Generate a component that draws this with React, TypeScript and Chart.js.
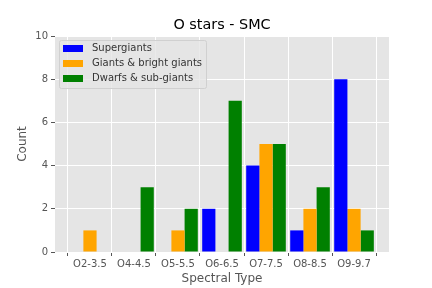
import React, { useEffect, useRef } from "react";
import { Chart, registerables } from "chart.js";

Chart.register(...registerables);

const categories = ["O2-3.5", "O4-4.5", "O5-5.5", "O6-6.5", "O7-7.5", "O8-8.5", "O9-9.7"];
const supergiants = [0, 0, 0, 2, 4, 1, 8];
const giants = [1, 0, 1, 0, 5, 2, 2];
const dwarfs = [0, 3, 2, 7, 5, 3, 1];
const yTicks = [0, 2, 4, 6, 8, 10];
const chartTitle = "O stars - SMC";

const FONT = "'DejaVu Sans', sans-serif";

const bgPlugin = {
  id: "plotBg",
  beforeDraw(chart: any) {
    const { ctx, chartArea } = chart;
    ctx.save();
    ctx.fillStyle = "#E5E5E5";
    ctx.fillRect(chartArea.left, chartArea.top, chartArea.right - chartArea.left, chartArea.bottom - chartArea.top);
    ctx.restore();
  },
};

const titlePlugin = {
  id: "centeredTitle",
  afterDraw(chart: any) {
    const { ctx, chartArea } = chart;
    ctx.save();
    ctx.font = `14.4px ${FONT}`;
    ctx.fillStyle = "#000000";
    ctx.textAlign = "center";
    ctx.textBaseline = "alphabetic";
    ctx.fillText(chartTitle, (chartArea.left + chartArea.right) / 2, chartArea.top - 7);
    ctx.restore();
  },
};

const legendPlugin = {
  id: "innerLegend",
  afterDraw(chart: any) {
    const { ctx, chartArea } = chart;
    const x0 = chartArea.left + 4;
    const y0 = chartArea.top + 4;
    const w = 147;
    const h = 48;
    ctx.save();
    ctx.fillStyle = "rgba(229,229,229,0.8)";
    ctx.strokeStyle = "#D0D0D0";
    ctx.lineWidth = 1;
    ctx.beginPath();
    if ((ctx as any).roundRect) (ctx as any).roundRect(x0 + 0.5, y0 + 0.5, w, h, 2);
    else ctx.rect(x0 + 0.5, y0 + 0.5, w, h);
    ctx.fill();
    ctx.stroke();
    ctx.font = `10px ${FONT}`;
    ctx.textBaseline = "middle";
    ctx.textAlign = "left";
    chart.data.datasets.forEach((ds: any, i: number) => {
      const cy = y0 + 8.5 + i * 15;
      ctx.fillStyle = ds.backgroundColor;
      ctx.fillRect(x0 + 4, cy - 3.5, 20, 7);
      ctx.fillStyle = "#333333";
      ctx.fillText(ds.label, x0 + 33, cy);
    });
    ctx.restore();
  },
};

export default function App() {
  const ref = useRef<HTMLCanvasElement | null>(null);
  useEffect(() => {
    if (!ref.current) return;
    const mk = (arr: number[]) => arr.map((v, i) => ({ x: i, y: v }));
    const chart = new Chart(ref.current, {
      type: "bar",
      data: {
        datasets: [
          { label: "Supergiants", data: mk(supergiants), backgroundColor: "#0000FF" },
          { label: "Giants & bright giants", data: mk(giants), backgroundColor: "#FFA500" },
          { label: "Dwarfs & sub-giants", data: mk(dwarfs), backgroundColor: "#008000" },
        ],
      },
      options: {
        animation: false,
        responsive: false,
        maintainAspectRatio: false,
        categoryPercentage: 0.9,
        barPercentage: 1,
        layout: { padding: { left: 0, right: 43, top: 36, bottom: 0 } },
        plugins: {
          legend: { display: false },
          tooltip: { enabled: false },
          title: { display: false },
        },
        scales: {
          x: {
            type: "linear",
            min: -0.795,
            max: 6.795,
            offset: false,
            afterBuildTicks: (axis: any) => {
              axis.ticks = categories.map((_, i) => ({ value: i }));
            },
            afterFit: (axis: any) => {
              axis.height = 36;
            },
            grid: { color: "#FFFFFF", lineWidth: 1, drawTicks: true, tickLength: 4, tickColor: "#555555" },
            border: { display: false },
            ticks: {
              color: "#555555",
              font: { family: FONT, size: 10 },
              padding: 2,
              maxRotation: 0,
              autoSkip: false,
              callback: (v: any) => categories[Math.round(Number(v))] ?? "",
            },
            title: {
              display: true,
              text: "Spectral Type",
              color: "#555555",
              font: { family: FONT, size: 12 },
              padding: { top: 0, bottom: 2 },
            },
          },
          y: {
            min: 0,
            max: 10,
            afterBuildTicks: (axis: any) => {
              axis.ticks = yTicks.map((v) => ({ value: v }));
            },
            afterFit: (axis: any) => {
              axis.width = 55;
            },
            grid: { color: "#FFFFFF", lineWidth: 1, drawTicks: true, tickLength: 4, tickColor: "#555555" },
            border: { display: false },
            ticks: {
              color: "#555555",
              font: { family: FONT, size: 10 },
              padding: 3,
            },
            title: {
              display: true,
              text: "Count",
              color: "#555555",
              font: { family: FONT, size: 12 },
              padding: { top: 16, bottom: 0 },
            },
          },
        },
      },
      plugins: [bgPlugin, legendPlugin, titlePlugin],
    } as any);
    return () => chart.destroy();
  }, []);
  return (
    <div style={{ position: "fixed", left: 0, top: 0, width: 432, height: 288, background: "#FFFFFF" }}>
      <canvas ref={ref} width={432} height={288} style={{ width: 432, height: 288, display: "block" }} />
    </div>
  );
}
